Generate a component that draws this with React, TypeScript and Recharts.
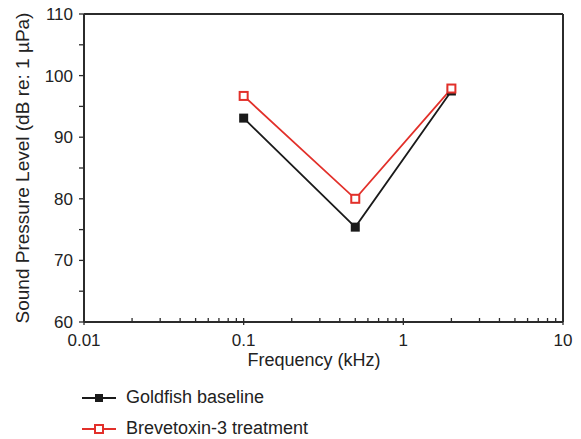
import React from "react";
import { LineChart, Line, XAxis, YAxis, ReferenceLine, Legend } from "recharts";

const frequencies = [0.1, 0.5, 2];
const baseline = [93.1, 75.4, 97.5];
const treatment = [96.7, 80.0, 97.9];

const xMajor = [0.01, 0.1, 1, 10];
const xMinor = [0.02, 0.03, 0.04, 0.05, 0.06, 0.07, 0.08, 0.09, 0.2, 0.3, 0.4, 0.5, 0.6, 0.7, 0.8, 0.9, 2, 3, 4, 5, 6, 7, 8, 9];
const yMajor = [60, 70, 80, 90, 100, 110];
const yMinor = [65, 75, 85, 95, 105];

const seriesNames = ["Goldfish baseline", "Brevetoxin-3 treatment"];
const seriesColors = ["#1a1a1a", "#e2302a"];

const data = frequencies.map((f, i) => ({ f, baseline: baseline[i], treatment: treatment[i] }));

const FONT = "'Liberation Sans', Arial, Helvetica, sans-serif";
const AXIS = "#2b2b2b";

const XTick = (props: any) => {
  const { x, y, payload } = props;
  const major = xMajor.includes(payload.value);
  return (
    <g>
      <line x1={x} x2={x} y1={major ? y + 3 : y} y2={y - 4} stroke={AXIS} strokeWidth={1.3} />
      {major && (
        <text x={x} y={y + 24} textAnchor="middle" fontSize={17} fill="#222" fontFamily={FONT}>
          {payload.value}
        </text>
      )}
    </g>
  );
};

const YTick = (props: any) => {
  const { x, y, payload } = props;
  const major = yMajor.includes(payload.value);
  return (
    <g>
      <line x1={x - 5} x2={x} y1={y} y2={y} stroke={AXIS} strokeWidth={1.3} />
      {major && (
        <text x={x - 11} y={y + 6} textAnchor="end" fontSize={17} fill="#222" fontFamily={FONT}>
          {payload.value}
        </text>
      )}
    </g>
  );
};

const Square = (props: any) => {
  const { cx, cy, hollow, color } = props;
  if (cx == null || cy == null) return null;
  return hollow ? (
    <rect x={cx - 4} y={cy - 4} width={8} height={8} fill="#fff" stroke={color} strokeWidth={2} />
  ) : (
    <rect x={cx - 4.5} y={cy - 4.5} width={9} height={9} fill={color} />
  );
};

const LegendBox = () => (
  <div style={{ fontFamily: FONT, fontSize: 18, color: "#222" }}>
    {seriesNames.map((name, i) => (
      <div key={name} style={{ display: "flex", alignItems: "center", height: 31 }}>
        <svg width={44} height={12}>
          <line x1={0} x2={34} y1={6} y2={6} stroke={seriesColors[i]} strokeWidth={2} />
          {i === 0 ? (
            <rect x={13} y={2} width={8} height={8} fill={seriesColors[i]} />
          ) : (
            <rect x={13} y={2} width={8} height={8} fill="#fff" stroke={seriesColors[i]} strokeWidth={2} />
          )}
        </svg>
        <span>{name}</span>
      </div>
    ))}
  </div>
);

export default function App() {
  return (
    <div style={{ position: "absolute", left: 0, top: 0, background: "#fff" }}>
      <LineChart width={581} height={439} data={data} margin={{ top: 14, right: 18, left: 0, bottom: 67 }}>
        <XAxis
          dataKey="f"
          type="number"
          scale="log"
          domain={[0.01, 10]}
          ticks={[...xMajor, ...xMinor]}
          interval={0}
          tick={<XTick />}
          tickLine={false}
          tickSize={0}
          tickMargin={0}
          height={50}
          axisLine={{ stroke: AXIS, strokeWidth: 2 }}
          allowDataOverflow
        />
        <YAxis
          type="number"
          domain={[60, 110]}
          ticks={[...yMajor, ...yMinor]}
          interval={0}
          tick={<YTick />}
          tickLine={false}
          tickSize={0}
          tickMargin={0}
          width={84}
          axisLine={{ stroke: AXIS, strokeWidth: 2 }}
          allowDataOverflow
        />
        <ReferenceLine y={110} stroke={AXIS} strokeWidth={2} />
        <ReferenceLine x={10} stroke={AXIS} strokeWidth={2} />
        <Line
          dataKey="baseline"
          name={seriesNames[0]}
          stroke={seriesColors[0]}
          strokeWidth={1.8}
          isAnimationActive={false}
          dot={<Square color={seriesColors[0]} />}
          activeDot={false}
        />
        <Line
          dataKey="treatment"
          name={seriesNames[1]}
          stroke={seriesColors[1]}
          strokeWidth={1.8}
          isAnimationActive={false}
          dot={<Square color={seriesColors[1]} hollow />}
          activeDot={false}
        />
        <Legend
          layout="horizontal"
          align="center"
          verticalAlign="middle"
          content={<LegendBox />}
          wrapperStyle={{ position: "absolute", left: 82, top: 382, width: 300 }}
        />
        <text x={314} y={366} textAnchor="middle" fontSize={18} fill="#222" fontFamily={FONT}>
          Frequency (kHz)
        </text>
        <text
          x={29}
          y={168}
          transform="rotate(-90, 29, 168)"
          textAnchor="middle"
          fontSize={19}
          fill="#222"
          fontFamily={FONT}
        >
          Sound Pressure Level (dB re: 1 µPa)
        </text>
      </LineChart>
    </div>
  );
}
